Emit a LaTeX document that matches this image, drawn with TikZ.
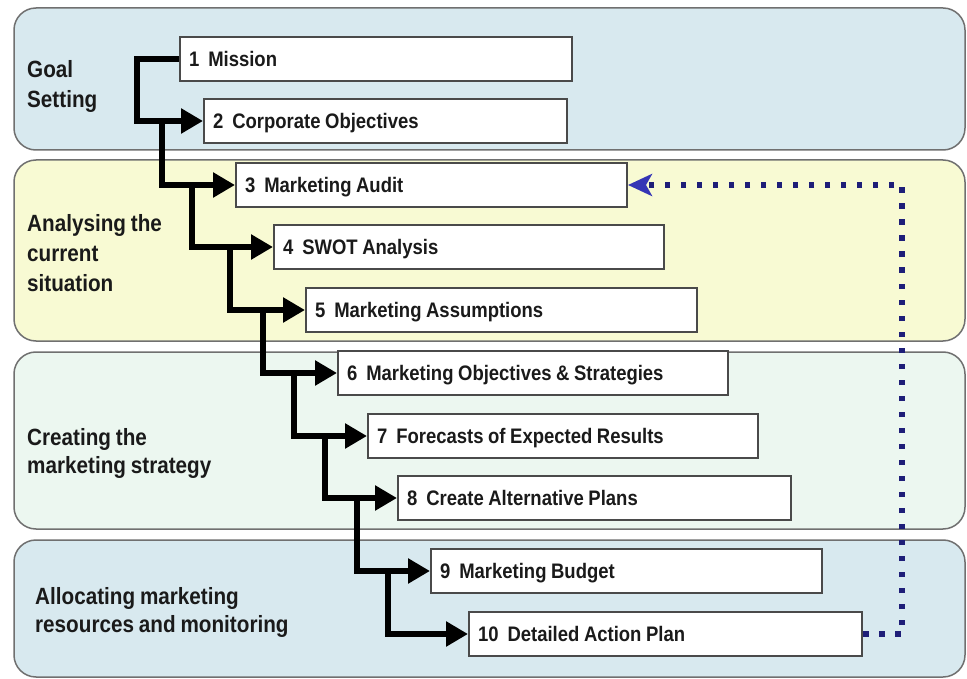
\documentclass[tikz,border=0pt]{standalone}
\usepackage{fontspec}
\setmainfont{Liberation Sans}[FakeStretch=0.88, WordSpace=0.85]
\usetikzlibrary{arrows.meta}

\definecolor{bandA}{HTML}{D8E9EF}
\definecolor{bandB}{HTML}{F8FAD3}
\definecolor{bandC}{HTML}{ECF7F0}
\definecolor{bandD}{HTML}{D8E9EF}
\definecolor{bandline}{HTML}{707070}
\definecolor{boxline}{HTML}{4A4A4A}
\definecolor{txt}{HTML}{1A1A1A}
\definecolor{fbline}{HTML}{1E1E78}
\definecolor{fbhead}{HTML}{3535B5}

\newcommand\stepno[1]{#1\hspace{9pt}}

\begin{document}
\begin{tikzpicture}[x=1pt,y=-1pt,
  band/.style={draw=bandline, line width=1.5pt, rounded corners=22pt},
  stepbox/.style={draw=boxline, line width=2pt, fill=white, anchor=north west,
    minimum height=44pt, inner xsep=9pt, inner ysep=0pt,
    text height=15pt, text depth=0pt, align=left,
    font=\fontsize{21}{24}\selectfont\bfseries, text=txt,
    execute at begin node={\spaceskip=4.6pt\relax}},
  phase/.style={anchor=north west, inner sep=0pt, align=left,
    font=\fontsize{23.5}{30}\selectfont\bfseries, text=txt},
  flow/.style={line width=6pt, -{Triangle[length=22pt,width=24pt]}},
  feedback/.style={draw=fbline, line width=5.5pt, dash pattern=on 5.5pt off 10.5pt,
    -{Stealth[length=24pt,width=22pt,inset=6pt,color=fbhead]}}]

\useasboundingbox (0,0) rectangle (967,679);
\fill[white] (0,0) rectangle (967,679);

% phase bands
\draw[band, fill=bandA] (14,8)   rectangle (965,150);
\draw[band, fill=bandB] (14,160) rectangle (965,341);
\draw[band, fill=bandC] (14,352) rectangle (965,529);
\draw[band, fill=bandD] (14,540) rectangle (965,677);

% phase labels
\node[phase] (p1) at (27,60)  {Goal\\Setting};
\node[phase] (p2) at (27,214) {Analysing the\\current\\situation};
\node[phase, font=\fontsize{23.5}{28.5}\selectfont\bfseries] (p3) at (27,428) {Creating the\\marketing strategy};
\node[phase, font=\fontsize{23.5}{28.5}\selectfont\bfseries] (p4) at (35,587) {Allocating marketing\\resources and monitoring};

% planning steps
\node[stepbox, text width=374pt] (b1)  at (179,36)  {\stepno{1}Mission};
\node[stepbox, text width=345pt] (b2)  at (203,98)  {\stepno{2}Corporate Objectives};
\node[stepbox, text width=373pt] (b3)  at (235,162) {\stepno{3}Marketing Audit};
\node[stepbox, text width=372pt] (b4)  at (273,224) {\stepno{4}SWOT Analysis};
\node[stepbox, text width=373pt] (b5)  at (305,287) {\stepno{5}Marketing Assumptions};
\node[stepbox, text width=372pt] (b6)  at (337,350) {\stepno{6}Marketing Objectives \& Strategies};
\node[stepbox, text width=372pt] (b7)  at (367,413) {\stepno{7}Forecasts of Expected Results};
\node[stepbox, text width=375pt] (b8)  at (397,475) {\stepno{8}Create Alternative Plans};
\node[stepbox, text width=373pt] (b9)  at (430,548) {\stepno{9}Marketing Budget};
\node[stepbox, text width=375pt] (b10) at (468,611) {\stepno{10}Detailed Action Plan};

% cascading flow
\coordinate (j2) at (162,0);
\coordinate (j3) at (192,0);
\coordinate (j4) at (230,0);
\coordinate (j5) at (263,0);
\coordinate (j6) at (294,0);
\coordinate (j7) at (325,0);
\coordinate (j8) at (357,0);
\coordinate (j9) at (388,0);
\draw[flow] (b1.west) -- ++(-42,0) |- (b2.west);
\draw[flow] (j2 |- b2.west) |- (b3.west);
\draw[flow] (j3 |- b3.west) |- (b4.west);
\draw[flow] (j4 |- b4.west) |- (b5.west);
\draw[flow] (j5 |- b5.west) |- (b6.west);
\draw[flow] (j6 |- b6.west) |- (b7.west);
\draw[flow] (j7 |- b7.west) |- (b8.west);
\draw[flow] (j8 |- b8.west) |- (b9.west);
\draw[flow] (j9 |- b9.west) |- (b10.west);

% monitoring feedback loop
\coordinate (fbx) at (902,0);
\draw[feedback] (b10.east) -| (fbx |- b3.east) -- (b3.east);
\end{tikzpicture}
\end{document}
